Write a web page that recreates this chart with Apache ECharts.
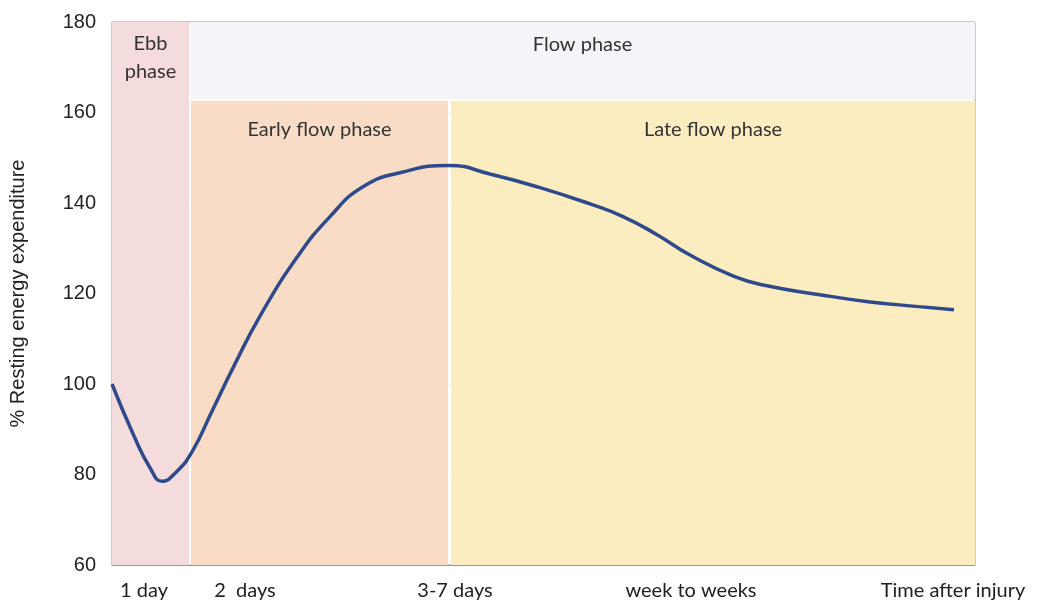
<!DOCTYPE html>
<html>
<head>
<meta charset="utf-8">
<script src="https://cdn.jsdelivr.net/npm/echarts@6/dist/echarts.min.js"></script>
<style>
  html, body { margin: 0; padding: 0; background: #fff; }
  #chart { width: 1038px; height: 601px; }
</style>
</head>
<body>
<div id="chart"></div>
<script>
// x is a time position along the axis (0 = injury, 863 = end of plot)
const curve_x = [0, 22, 38, 50, 64, 80, 100, 122, 148, 185, 218, 251, 290, 337, 378, 428, 478, 511, 545, 578, 622, 655, 706, 756, 807, 842];
const curve_y = [100, 88.5, 81.5, 78.5, 80.5, 85, 94, 104, 115, 128, 137, 143.6, 146.8, 148.3, 146.4, 143.4, 139.8, 137, 133, 128.5, 123.8, 121.7, 119.8, 118.2, 117.1, 116.4];

const time_label_pos = [32, 133, 343, 579, 841];
const time_labels = ['1 day', '2  days', '3-7 days', 'week to weeks', 'Time after injury'];

// phase bands: [x start, x end, y low, y high]
const phase_names = ['Ebb\nphase', 'Flow phase', 'Early flow phase', 'Late flow phase'];
const phase_bounds = [
    [0, 77, 60, 180],
    [78, 863, 163, 180],
    [79, 336, 60, 162.6],
    [339, 863, 60, 162.6]
];
const phase_colors = ['#f4dcdc', '#f4f5f8', '#f9dcc6', '#fcedc0'];
const phase_label_dist = [8, 9, 15, 15];

let chart = echarts.init(document.getElementById('chart'));

let areas = phase_bounds.map(function (b, i) {
    return [
        {
            xAxis: b[0], yAxis: b[2],
            itemStyle: {color: phase_colors[i]},
            label: {
                show: true,
                formatter: phase_names[i],
                position: 'insideTop',
                distance: phase_label_dist[i],
                color: '#333',
                fontFamily: 'Lato',
                fontSize: 20,
                lineHeight: 28
            }
        },
        {xAxis: b[1], yAxis: b[3]}
    ];
});

let option = {
    animation: false,
    grid: {
        left: 112,
        right: 63,
        top: 22,
        bottom: 35,
        show: true,
        borderColor: '#999',
        borderWidth: 1
    },
    xAxis: {
        type: 'value',
        min: 0,
        max: 863,
        splitLine: {show: false},
        axisLine: {show: true, lineStyle: {color: '#999'}},
        axisTick: {show: false},
        axisLabel: {
            customValues: time_label_pos,
            margin: 16,
            color: '#222',
            fontFamily: 'Lato',
            fontSize: 20,
            formatter: function (v) {
                let i = time_label_pos.indexOf(v);
                return i >= 0 ? time_labels[i] : '';
            }
        }
    },
    yAxis: {
        type: 'value',
        min: 60,
        max: 180,
        interval: 20,
        name: '% Resting energy expenditure',
        nameLocation: 'middle',
        nameGap: 84,
        nameTextStyle: {
            color: '#222',
            fontFamily: 'Liberation Sans',
            fontSize: 20
        },
        axisLine: {show: true, lineStyle: {color: '#999'}},
        axisTick: {show: false},
        splitLine: {show: true, lineStyle: {color: 'rgba(200,200,200,0.25)'}},
        axisLabel: {
            margin: 16,
            color: '#222',
            fontFamily: 'Liberation Sans',
            fontSize: 20
        }
    },
    series: [
        {
            type: 'line',
            smooth: 0.5,
            symbol: 'none',
            lineStyle: {color: '#2e4a8b', width: 3.5},
            data: curve_x.map(function (x, i) { return [x, curve_y[i]]; }),
            markArea: {
                silent: true,
                data: areas
            },
            z: 3
        }
    ]
};

chart.setOption(option);
</script>
</body>
</html>
